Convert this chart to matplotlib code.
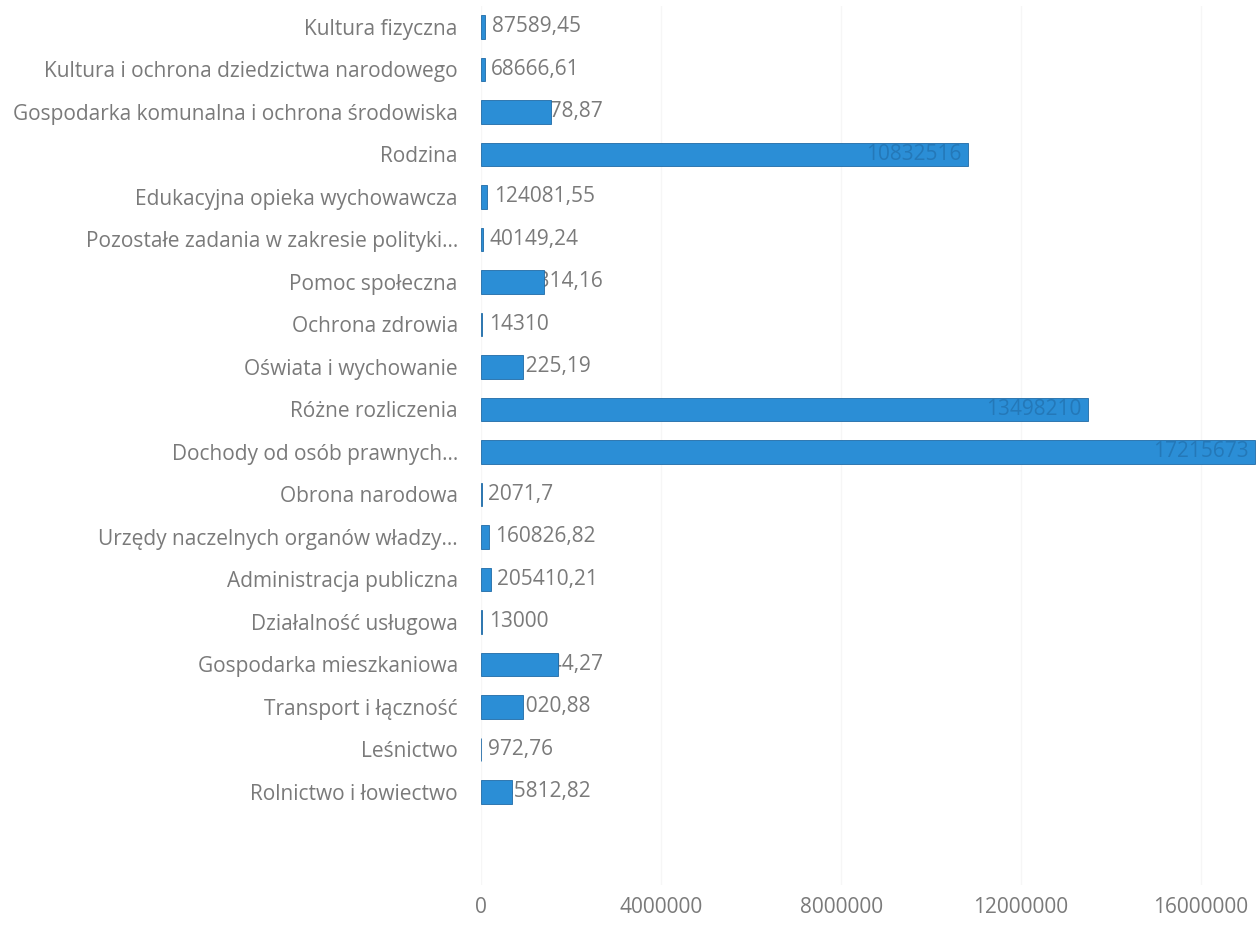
import matplotlib.pyplot as plt
from matplotlib.ticker import FixedLocator

# categories listed bottom -> top, as drawn
categories = [
    "Rolnictwo i łowiectwo",
    "Leśnictwo",
    "Transport i łączność",
    "Gospodarka mieszkaniowa",
    "Działalność usługowa",
    "Administracja publiczna",
    "Urzędy naczelnych organów władzy...",
    "Obrona narodowa",
    "Dochody od osób prawnych...",
    "Różne rozliczenia",
    "Oświata i wychowanie",
    "Ochrona zdrowia",
    "Pomoc społeczna",
    "Pozostałe zadania w zakresie polityki...",
    "Edukacyjna opieka wychowawcza",
    "Rodzina",
    "Gospodarka komunalna i ochrona środowiska",
    "Kultura i ochrona dziedzictwa narodowego",
    "Kultura fizyczna",
]
values = [
    685812.82, 972.76, 921020.88, 1712844.27, 13000, 205410.21, 160826.82,
    2071.7, 17215673.00, 13498210.00, 931225.19, 14310, 1382314.16,
    40149.24, 124081.55, 10832516.00, 1538678.87, 68666.61, 87589.45,
]
x_ticks = [0, 4000000, 8000000, 12000000, 16000000]

FONT = ["Open Sans", "DejaVu Sans"]
GRAY = "#7a7a7a"
BAR = "#2b8ed6"
FS = 15


def fmt(v):
    s = f"{v:.2f}".rstrip("0").rstrip(".")
    return s.replace(".", ",")


def main():
    plt.rcParams["font.family"] = FONT
    fig = plt.figure(figsize=(12.57, 9.40), dpi=100)
    ax = fig.add_axes([0.383, 0.058, 0.617, 0.936])

    ypos = list(range(len(categories)))
    ax.barh(ypos, values, height=0.55, color=BAR, edgecolor="#1f6aa6",
            linewidth=0.6, zorder=3)

    ax.set_xlim(0, 17250000)
    ax.set_ylim(-2.2, len(categories) - 0.5)
    ax.xaxis.set_major_locator(FixedLocator(x_ticks))
    ax.set_xticklabels([str(t) for t in x_ticks])
    ax.set_yticks(ypos)
    ax.set_yticklabels(categories)
    ax.tick_params(axis="both", length=0, colors=GRAY, labelsize=FS)
    ax.tick_params(axis="y", pad=17)
    ax.tick_params(axis="x", pad=8)
    for s in ax.spines.values():
        s.set_visible(False)
    ax.grid(axis="x", color="#f6f6f6", linewidth=1, zorder=0)

    # value labels: inside end when they fit, otherwise near the axis start
    # (the bar hides part of the text, as in the source)
    fig.canvas.draw()
    renderer = fig.canvas.get_renderer()
    inv = ax.transData.inverted()
    for y, v in zip(ypos, values):
        label = fmt(v)
        t = ax.text(0, y, label, fontsize=FS, va="center", ha="left",
                    color=GRAY, zorder=2)
        bb = t.get_window_extent(renderer)
        w = inv.transform((bb.width, 0))[0] - inv.transform((0, 0))[0]
        if v > w * 1.15:
            t.set_x(v - w * 1.07)
            t.set_color("#2478b8")
            t.set_zorder(4)
        elif v < 300000:
            t.set_x(v + 150000)
        else:
            t.set_x(200000)

    fig.savefig("out.png", dpi=100)
    plt.close(fig)


if __name__ == "__main__":
    main()
